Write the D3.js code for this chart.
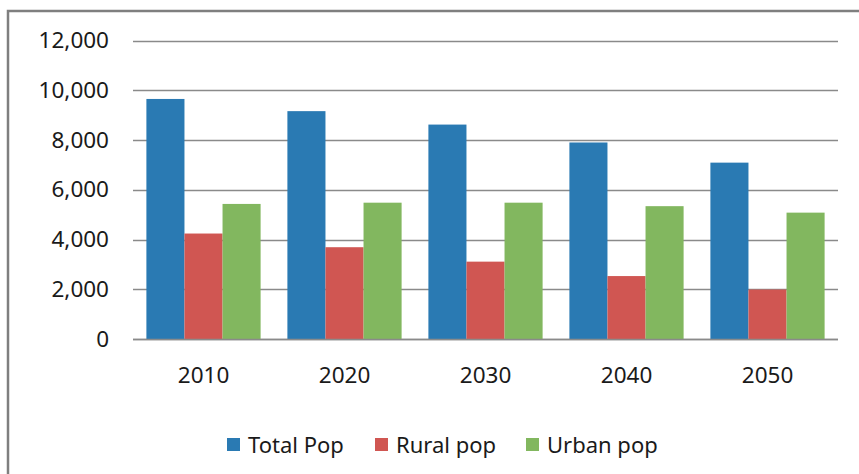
<!DOCTYPE html>
<html>
<head>
<meta charset="utf-8">
<script src="https://cdn.jsdelivr.net/npm/d3@7"></script>
<style>
  body { margin: 0; background: #fff; }
  text { font-family: "Noto Sans", "Open Sans", sans-serif; fill: #1a1a1a; }
</style>
</head>
<body>
<div id="chart"></div>
<script>
// Data
var years = ["2010", "2020", "2030", "2040", "2050"];
var seriesNames = ["Total Pop", "Rural pop", "Urban pop"];
var totalPop = [9650, 9160, 8620, 7900, 7090];
var ruralPop = [4240, 3690, 3110, 2530, 1990];
var urbanPop = [5430, 5480, 5480, 5340, 5080];
var yTicks = [0, 2000, 4000, 6000, 8000, 10000, 12000];
var colors = ["#2a7ab3", "#d05652", "#82b75f"];

var svgWidth = 859;
var svgHeight = 474;

var plot = { left: 133, right: 838, top: 40.5, bottom: 339 };

var svg = d3.select("#chart")
  .append("svg")
  .attr("width", svgWidth)
  .attr("height", svgHeight);

// outer chart border (right and bottom edges fall outside the picture)
svg.append("rect")
  .attr("x", 8)
  .attr("y", 11)
  .attr("width", 900)
  .attr("height", 500)
  .attr("fill", "none")
  .attr("stroke", "#7f7f7f")
  .attr("stroke-width", 2.5);

var x0 = d3.scaleBand()
  .domain(years)
  .range([plot.left, plot.right])
  .paddingInner(0.19)
  .paddingOuter(0.095);

var x1 = d3.scaleBand()
  .domain(seriesNames)
  .range([0, x0.bandwidth()]);

var y = d3.scaleLinear()
  .domain([0, 12000])
  .range([plot.bottom, plot.top]);

// gridlines
svg.append("g")
  .selectAll("line")
  .data(yTicks)
  .enter()
  .append("line")
  .attr("x1", plot.left)
  .attr("x2", plot.right)
  .attr("y1", d => Math.round(y(d)) + 0.5)
  .attr("y2", d => Math.round(y(d)) + 0.5)
  .attr("stroke", "#8a8a8a")
  .attr("stroke-width", 1.6);

// y axis labels
var leftAxis = d3.axisLeft(y)
  .tickValues(yTicks)
  .tickFormat(d3.format(","))
  .tickSize(0)
  .tickPadding(24);

var yAxis = svg.append("g")
  .attr("transform", `translate(${plot.left}, 0)`)
  .call(leftAxis);
yAxis.select(".domain").remove();
yAxis.selectAll("text")
  .attr("font-size", "22.5px")
  .attr("font-family", null)
  .attr("fill", "#1a1a1a");

// bars
var table = years.map(function(yr, i) {
  return { year: yr, values: [totalPop[i], ruralPop[i], urbanPop[i]] };
});

var groups = svg.append("g")
  .selectAll("g")
  .data(table)
  .enter()
  .append("g")
  .attr("transform", d => `translate(${x0(d.year)}, 0)`);

groups.selectAll("rect")
  .data(d => d.values.map((v, j) => ({ name: seriesNames[j], value: v, j: j })))
  .enter()
  .append("rect")
  .attr("x", d => x1(d.name))
  .attr("y", d => y(d.value))
  .attr("width", x1.bandwidth())
  .attr("height", d => y(0) - y(d.value))
  .attr("fill", d => colors[d.j]);

// baseline over bars
svg.append("line")
  .attr("x1", plot.left)
  .attr("x2", plot.right)
  .attr("y1", Math.round(y(0)) + 0.5)
  .attr("y2", Math.round(y(0)) + 0.5)
  .attr("stroke", "#8a8a8a")
  .attr("stroke-width", 1.6);

// x axis labels
var bottomAxis = d3.axisBottom(x0).tickSize(0).tickPadding(28);
var xAxis = svg.append("g")
  .attr("transform", `translate(0, ${plot.bottom})`)
  .call(bottomAxis);
xAxis.select(".domain").remove();
xAxis.selectAll("text")
  .attr("font-size", "22.5px")
  .attr("font-family", null)
  .attr("fill", "#1a1a1a");

// legend
var legendX = [227, 375, 526];
var legend = svg.append("g");
var items = legend.selectAll("g")
  .data(seriesNames)
  .enter()
  .append("g")
  .attr("transform", (d, i) => `translate(${legendX[i]}, 438)`);

items.append("rect")
  .attr("width", 13)
  .attr("height", 13)
  .attr("fill", (d, i) => colors[i]);

items.append("text")
  .attr("x", 21)
  .attr("y", 14.5)
  .attr("font-size", "22px")
  .text(d => d);
</script>
</body>
</html>
